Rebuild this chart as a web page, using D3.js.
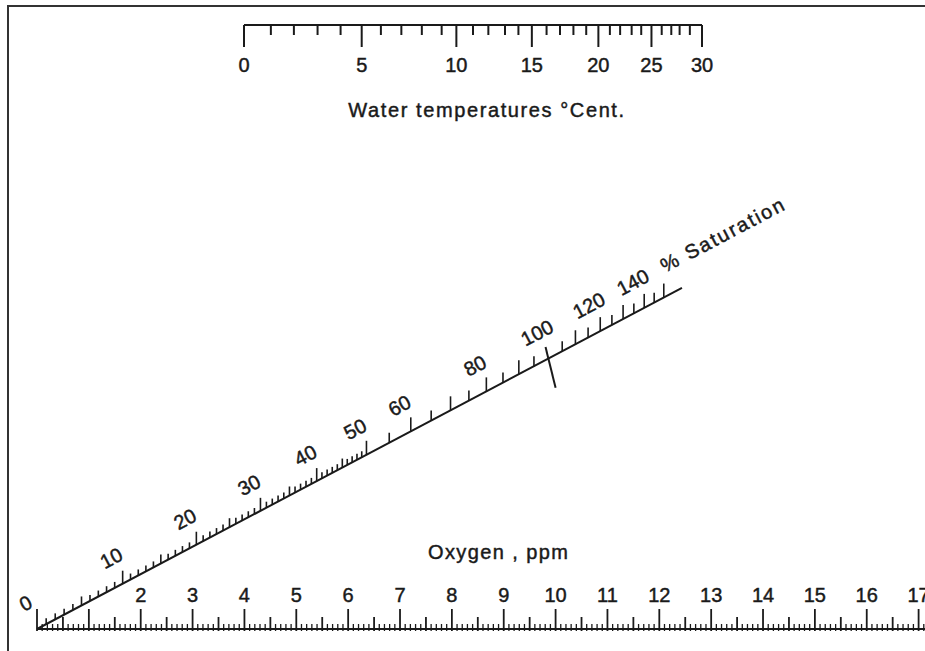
<!DOCTYPE html>
<html>
<head>
<meta charset="utf-8">
<script src="https://cdnjs.cloudflare.com/ajax/libs/d3/7.8.5/d3.min.js"></script>
<style>
  body { margin: 0; background: #fff; }
  svg text { font-family: "Liberation Sans", Arial, sans-serif; fill: #1a1a1a; stroke: #1a1a1a; stroke-width: 0.45px; }
</style>
</head>
<body>
<div id="chart"></div>
<script>
// temperature (deg C) and the oxygen solubility (mg/l) each degree stands for on the top scale
var tempDeg = [0,1,2,3,4,5,6,7,8,9,10,11,12,13,14,15,16,17,18,19,20,21,22,23,24,25,26,27,28,29,30];
var solubility = [14.62,14.20,13.84,13.47,13.11,12.78,12.48,12.16,11.84,11.53,11.30,11.04,10.80,10.54,10.33,
                  10.12,9.89,9.68,9.47,9.27,9.08,8.90,8.74,8.56,8.41,8.25,8.09,7.94,7.81,7.65,7.46];
var tempLabels = [0,5,10,15,20,25,30];

// oxygen, ppm (bottom scale)
var ppmLabels = [2,3,4,5,6,7,8,9,10,11,12,13,14,15,16,17];
var ppmMax = 17.2;

// % saturation (diagonal scale)
var satLabels = [0,10,20,30,40,50,60,80,100,120,140];
var satEnd = 160;

var W = 925, H = 651;
var ink = "#1a1a1a";

var svg = d3.select("#chart").append("svg")
    .attr("width", W)
    .attr("height", H)

// frame
svg.append("path")
    .attr("d", "M8," + H + "V6H" + W)
    .attr("fill", "none")
    .attr("stroke", "#333")
    .attr("stroke-width", 2)

var yTop = 25, yBot = 629;

var solX = d3.scaleLinear().domain([solubility[0], solubility[30]]).range([244, 702]);
var ppmX = d3.scaleLinear().domain([0, 17]).range([37, 918.6]);

// ---- top scale: water temperature
var topG = svg.append("g")
topG.append("line")
    .attr("x1", solX(solubility[0])).attr("x2", solX(solubility[30]))
    .attr("y1", yTop).attr("y2", yTop)
    .attr("stroke", ink).attr("stroke-width", 2)

topG.selectAll(".tt")
    .data(tempDeg)
    .enter().append("line")
      .attr("x1", (d, i) => solX(solubility[i]))
      .attr("x2", (d, i) => solX(solubility[i]))
      .attr("y1", yTop)
      .attr("y2", d => d % 5 == 0 ? yTop + 22 : yTop + 10)
      .attr("stroke", ink).attr("stroke-width", 2)

topG.selectAll(".tl")
    .data(tempLabels)
    .enter().append("text")
      .attr("x", d => solX(solubility[tempDeg.indexOf(d)]))
      .attr("y", yTop + 47)
      .attr("text-anchor", "middle")
      .attr("font-size", 20)
      .text(d => d)

svg.append("text")
    .attr("x", 487).attr("y", yTop + 92)
    .attr("text-anchor", "middle")
    .attr("font-size", 20)
    .attr("letter-spacing", 1.6)
    .text("Water temperatures \u00b0Cent.")

// ---- bottom scale: oxygen ppm
var botG = svg.append("g")
botG.append("line")
    .attr("x1", ppmX(0)).attr("x2", W)
    .attr("y1", yBot).attr("y2", yBot)
    .attr("stroke", ink).attr("stroke-width", 2)

var ppmTicks = d3.range(0, Math.round(ppmMax * 10) + 1).map(v => v / 10);
botG.selectAll(".bt")
    .data(ppmTicks)
    .enter().append("line")
      .attr("x1", d => ppmX(d)).attr("x2", d => ppmX(d))
      .attr("y1", yBot + 2)
      .attr("y2", function(d) {
        var n = Math.round(d * 10);
        if (n % 10 == 0) return yBot - 20;
        if (n % 5 == 0) return yBot - 12;
        return yBot - 5;
      })
      .attr("stroke", ink)
      .attr("stroke-width", d => Math.round(d * 10) % 5 == 0 ? 1.8 : 1.3)

botG.selectAll(".bl")
    .data(ppmLabels)
    .enter().append("text")
      .attr("x", d => ppmX(d))
      .attr("y", yBot - 27)
      .attr("text-anchor", "middle")
      .attr("font-size", 20)
      .text(d => d)

svg.append("text")
    .attr("x", 428).attr("y", 559)
    .attr("font-size", 20)
    .attr("letter-spacing", 1.4)
    .text("Oxygen , ppm")

// ---- diagonal scale: % saturation (where the line from a temperature to a ppm value crosses)
var dPpm = ppmX(1) - ppmX(0);
var kSol = solX(0) - solX(1);
var pivot = solX(0);
var lineX = d3.scaleLinear().domain([0, 1]).range([ppmX(0), pivot]);
var lineY = d3.scaleLinear().domain([0, 1]).range([yBot, yTop]);
function satT(p) {
  var a = dPpm * p / 100;
  return a / (a + kSol);
}
function satPt(p) { return [lineX(satT(p)), lineY(satT(p))]; }

var ang = Math.atan2(yTop - yBot, pivot - ppmX(0));
var angDeg = ang * 180 / Math.PI;
var ux = Math.cos(ang), uy = Math.sin(ang);
var nx = Math.sin(ang), ny = -Math.cos(ang);

var satG = svg.append("g")
satG.append("line")
    .attr("x1", satPt(0)[0]).attr("y1", satPt(0)[1])
    .attr("x2", satPt(satEnd)[0]).attr("y2", satPt(satEnd)[1])
    .attr("stroke", ink).attr("stroke-width", 2)

var satTicks = d3.range(1, 50).concat(d3.range(50, 155, 5));
satG.selectAll(".st")
    .data(satTicks.filter(d => d != 100))
    .enter().append("line")
      .attr("x1", d => satPt(d)[0]).attr("x2", d => satPt(d)[0])
      .attr("y1", d => satPt(d)[1])
      .attr("y2", function(d) {
        var len;
        if (d < 50) len = d % 10 == 0 ? 13 : (d % 5 == 0 ? 9 : 6);
        else len = d % 10 == 0 ? 14 : 10;
        return satPt(d)[1] - len;
      })
      .attr("stroke", ink).attr("stroke-width", 1.6)

// the long 100 % mark
var p100 = satPt(100);
satG.append("line")
    .attr("x1", p100[0] - 0.24 * 12).attr("y1", p100[1] - 0.97 * 12)
    .attr("x2", p100[0] + 0.24 * 30).attr("y2", p100[1] + 0.97 * 30)
    .attr("stroke", ink).attr("stroke-width", 2)

satG.selectAll(".sl")
    .data(satLabels)
    .enter().append("text")
      .attr("transform", function(d) {
        var p = satPt(d);
        var x = p[0] + nx * 28 + ux * 2, y = p[1] + ny * 28 + uy * 2;
        return "translate(" + x + "," + y + ") rotate(" + angDeg + ")";
      })
      .attr("text-anchor", "middle")
      .attr("dy", "0.35em")
      .attr("font-size", 20)
      .text(d => d)

var pS = satPt(satEnd);
svg.append("text")
    .attr("transform", "translate(" + (pS[0] + nx * 28 - ux * 8) + "," + (pS[1] + ny * 28 - uy * 8) + ") rotate(" + angDeg + ")")
    .attr("dy", "0.35em")
    .attr("font-size", 20)
    .attr("letter-spacing", 2)
    .text("% Saturation")
</script>
</body>
</html>
